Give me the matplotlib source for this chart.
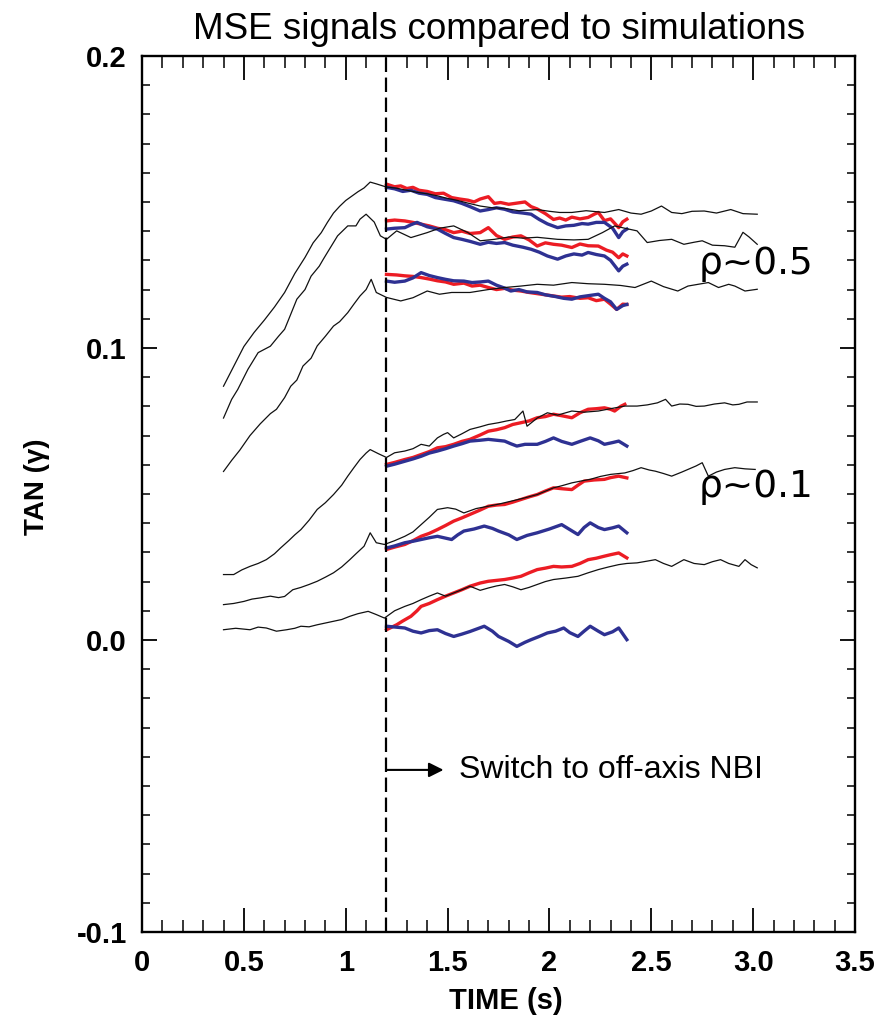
import matplotlib
matplotlib.use("Agg")
import matplotlib.pyplot as plt
from matplotlib.ticker import MultipleLocator, FixedLocator, FixedFormatter

# ── Data ────────────────────────────────────────────────────────────────────
# rho ~ 0.5 group: simulations (black, thin)
T_SIM_A1 = [0.40, 0.45, 0.50, 0.55, 0.60, 0.65, 0.70, 0.75, 0.80, 0.84, 0.88, 0.91, 0.94, 0.97,
            1.00, 1.03, 1.06, 1.09, 1.12, 1.15, 1.20, 1.25, 1.30, 1.35, 1.40, 1.45, 1.50, 1.55,
            1.60, 1.66, 1.72, 1.78, 1.85, 1.94, 2.00, 2.05, 2.11, 2.18, 2.27, 2.34, 2.40, 2.45,
            2.50, 2.55, 2.60, 2.65, 2.70, 2.76, 2.82, 2.89, 2.95, 3.02]
Y_SIM_A1 = [0.0869, 0.0937, 0.1005, 0.1053, 0.1095, 0.1140, 0.1190, 0.1255, 0.1310, 0.1360, 0.1395,
            0.1430, 0.1462, 0.1485, 0.1505, 0.1520, 0.1535, 0.1548, 0.1568, 0.1562, 0.1551, 0.1547,
            0.1540, 0.1533, 0.1528, 0.1521, 0.1512, 0.1505, 0.1496, 0.1486, 0.1480, 0.1478, 0.1470,
            0.1474, 0.1468, 0.1464, 0.1464, 0.1470, 0.1464, 0.1474, 0.1462, 0.1458, 0.1469, 0.1486,
            0.1464, 0.1460, 0.1468, 0.1469, 0.1462, 0.1474, 0.1460, 0.1458]

T_SIM_A2 = [0.40, 0.44, 0.47, 0.52, 0.57, 0.63, 0.67, 0.70, 0.72, 0.76, 0.80, 0.83, 0.87, 0.89,
            0.91, 0.96, 1.01, 1.05, 1.07, 1.10, 1.14, 1.17, 1.20, 1.25, 1.32, 1.40, 1.46, 1.53,
            1.60, 1.66, 1.73, 1.80, 1.87, 1.94, 2.04, 2.12, 2.19, 2.26, 2.32, 2.37, 2.43, 2.48,
            2.54, 2.60, 2.66, 2.71, 2.75, 2.80, 2.86, 2.91, 2.95, 2.98, 3.02]
Y_SIM_A2 = [0.0760, 0.0824, 0.0858, 0.0927, 0.0984, 0.1006, 0.1040, 0.1064, 0.1098, 0.1167, 0.1200,
            0.1246, 0.1280, 0.1304, 0.1327, 0.1384, 0.1418, 0.1418, 0.1441, 0.1458, 0.1431, 0.1384,
            0.1372, 0.1401, 0.1378, 0.1395, 0.1410, 0.1418, 0.1395, 0.1367, 0.1372, 0.1380, 0.1376,
            0.1379, 0.1372, 0.1370, 0.1372, 0.1395, 0.1418, 0.1410, 0.1401, 0.1361, 0.1368, 0.1372,
            0.1355, 0.1362, 0.1367, 0.1352, 0.1350, 0.1345, 0.1396, 0.1380, 0.1355]

T_SIM_A3 = [0.40, 0.44, 0.48, 0.53, 0.58, 0.63, 0.66, 0.70, 0.73, 0.76, 0.79, 0.83, 0.86, 0.90,
            0.94, 0.97, 1.01, 1.04, 1.07, 1.10, 1.125, 1.15, 1.20, 1.27, 1.33, 1.40, 1.46, 1.52,
            1.61, 1.70, 1.78, 1.86, 1.94, 2.02, 2.11, 2.19, 2.27, 2.35, 2.42, 2.50, 2.56, 2.63,
            2.68, 2.73, 2.78, 2.83, 2.88, 2.91, 2.96, 3.02]
Y_SIM_A3 = [0.0577, 0.0615, 0.0650, 0.0700, 0.0740, 0.0775, 0.0790, 0.0830, 0.0869, 0.0890, 0.0938,
            0.0965, 0.1007, 0.1040, 0.1075, 0.1090, 0.1121, 0.1150, 0.1178, 0.1200, 0.1235, 0.1190,
            0.1173, 0.1161, 0.1172, 0.1195, 0.1184, 0.1190, 0.1190, 0.1200, 0.1207, 0.1212, 0.1218,
            0.1215, 0.1224, 0.1220, 0.1218, 0.1214, 0.1207, 0.1229, 0.1210, 0.1195, 0.1212, 0.1218,
            0.1224, 0.1207, 0.1218, 0.1212, 0.1195, 0.1201]

# rho ~ 0.5 group: MSE measurements (red / blue)
T_RED_A1 = [1.20, 1.24, 1.27, 1.30, 1.33, 1.36, 1.40, 1.44, 1.48, 1.52, 1.56, 1.60, 1.63, 1.66,
            1.70, 1.73, 1.76, 1.80, 1.84, 1.88, 1.91, 1.94, 1.98, 2.02, 2.05, 2.08, 2.11, 2.15,
            2.19, 2.22, 2.24, 2.27, 2.30, 2.34, 2.36, 2.38]
Y_RED_A1 = [0.1561, 0.1552, 0.1555, 0.1546, 0.1550, 0.1540, 0.1536, 0.1528, 0.1530, 0.1515, 0.1510,
            0.1506, 0.1500, 0.1510, 0.1518, 0.1495, 0.1498, 0.1492, 0.1496, 0.1500, 0.1484, 0.1476,
            0.1460, 0.1440, 0.1445, 0.1438, 0.1448, 0.1442, 0.1447, 0.1458, 0.1464, 0.1436, 0.1442,
            0.1412, 0.1432, 0.1441]
T_BLUE_A1 = [1.20, 1.24, 1.28, 1.32, 1.36, 1.40, 1.44, 1.48, 1.53, 1.57, 1.61, 1.66, 1.70, 1.74,
             1.78, 1.82, 1.87, 1.91, 1.95, 1.99, 2.04, 2.08, 2.12, 2.16, 2.19, 2.23, 2.27, 2.31,
             2.34, 2.36, 2.38]
Y_BLUE_A1 = [0.1550, 0.1545, 0.1536, 0.1540, 0.1530, 0.1526, 0.1515, 0.1510, 0.1504, 0.1495, 0.1484,
             0.1469, 0.1474, 0.1480, 0.1475, 0.1466, 0.1462, 0.1458, 0.1440, 0.1425, 0.1412, 0.1418,
             0.1420, 0.1426, 0.1424, 0.1430, 0.1430, 0.1410, 0.1378, 0.1398, 0.1407]

T_RED_A2 = [1.20, 1.24, 1.29, 1.33, 1.37, 1.41, 1.45, 1.49, 1.53, 1.57, 1.61, 1.66, 1.70, 1.74,
            1.78, 1.82, 1.86, 1.90, 1.94, 1.98, 2.02, 2.06, 2.11, 2.15, 2.19, 2.24, 2.28, 2.31,
            2.34, 2.36, 2.38]
Y_RED_A2 = [0.1435, 0.1438, 0.1435, 0.1430, 0.1424, 0.1418, 0.1410, 0.1405, 0.1395, 0.1400, 0.1392,
            0.1395, 0.1412, 0.1385, 0.1372, 0.1380, 0.1384, 0.1370, 0.1349, 0.1360, 0.1355, 0.1352,
            0.1344, 0.1356, 0.1350, 0.1349, 0.1335, 0.1328, 0.1309, 0.1322, 0.1315]
T_BLUE_A2 = [1.20, 1.24, 1.29, 1.32, 1.35, 1.40, 1.45, 1.49, 1.53, 1.57, 1.61, 1.66, 1.70, 1.74,
             1.78, 1.82, 1.87, 1.91, 1.95, 1.99, 2.04, 2.08, 2.12, 2.16, 2.19, 2.23, 2.27, 2.30,
             2.34, 2.36, 2.38]
Y_BLUE_A2 = [0.1407, 0.1410, 0.1412, 0.1422, 0.1430, 0.1415, 0.1407, 0.1392, 0.1378, 0.1372, 0.1365,
             0.1355, 0.1362, 0.1358, 0.1361, 0.1352, 0.1345, 0.1338, 0.1328, 0.1315, 0.1304, 0.1315,
             0.1322, 0.1318, 0.1327, 0.1320, 0.1315, 0.1300, 0.1264, 0.1280, 0.1287]

T_RED_A3 = [1.20, 1.25, 1.29, 1.33, 1.37, 1.41, 1.45, 1.49, 1.53, 1.58, 1.62, 1.66, 1.70, 1.74,
            1.78, 1.82, 1.86, 1.90, 1.94, 1.98, 2.02, 2.06, 2.10, 2.15, 2.19, 2.23, 2.27, 2.30,
            2.33, 2.36, 2.38]
Y_RED_A3 = [0.1252, 0.1250, 0.1247, 0.1245, 0.1241, 0.1236, 0.1230, 0.1226, 0.1218, 0.1222, 0.1212,
            0.1215, 0.1207, 0.1200, 0.1204, 0.1198, 0.1195, 0.1190, 0.1186, 0.1182, 0.1178, 0.1174,
            0.1176, 0.1170, 0.1172, 0.1162, 0.1167, 0.1150, 0.1132, 0.1150, 0.1149]
T_BLUE_A3 = [1.20, 1.24, 1.29, 1.33, 1.37, 1.41, 1.45, 1.49, 1.53, 1.58, 1.62, 1.66, 1.70, 1.74,
             1.78, 1.81, 1.85, 1.89, 1.94, 1.98, 2.03, 2.07, 2.11, 2.15, 2.20, 2.24, 2.27, 2.30,
             2.33, 2.36, 2.38]
Y_BLUE_A3 = [0.1229, 0.1225, 0.1229, 0.1240, 0.1258, 0.1248, 0.1241, 0.1235, 0.1230, 0.1229, 0.1224,
             0.1226, 0.1229, 0.1215, 0.1205, 0.1195, 0.1200, 0.1192, 0.1190, 0.1182, 0.1176, 0.1170,
             0.1167, 0.1175, 0.1180, 0.1184, 0.1170, 0.1158, 0.1132, 0.1145, 0.1149]

# rho ~ 0.1 group: simulations (black, thin)
T_SIM_B1 = [0.40, 0.45, 0.49, 0.53, 0.57, 0.61, 0.65, 0.68, 0.72, 0.75, 0.78, 0.82, 0.86, 0.90,
            0.94, 0.98, 1.01, 1.04, 1.07, 1.10, 1.12, 1.16, 1.20, 1.24, 1.29, 1.33, 1.37, 1.41,
            1.45, 1.48, 1.50, 1.53, 1.57, 1.61, 1.66, 1.70, 1.75, 1.79, 1.83, 1.87, 1.89, 1.94,
            1.99, 2.04, 2.11, 2.17, 2.24, 2.30, 2.37, 2.43, 2.48, 2.53, 2.57, 2.60, 2.64, 2.68,
            2.72, 2.76, 2.81, 2.86, 2.90, 2.93, 2.97, 3.02]
Y_SIM_B1 = [0.0224, 0.0224, 0.0240, 0.0252, 0.0262, 0.0275, 0.0295, 0.0315, 0.0340, 0.0360, 0.0378,
            0.0410, 0.0447, 0.0470, 0.0498, 0.0530, 0.0561, 0.0590, 0.0618, 0.0640, 0.0652, 0.0638,
            0.0625, 0.0641, 0.0647, 0.0655, 0.0670, 0.0664, 0.0692, 0.0704, 0.0710, 0.0692, 0.0706,
            0.0721, 0.0730, 0.0738, 0.0744, 0.0750, 0.0755, 0.0784, 0.0732, 0.0760, 0.0778, 0.0770,
            0.0784, 0.0780, 0.0784, 0.0792, 0.0801, 0.0801, 0.0805, 0.0812, 0.0824, 0.0801, 0.0808,
            0.0807, 0.0800, 0.0801, 0.0808, 0.0812, 0.0805, 0.0807, 0.0815, 0.0815]

T_SIM_B2 = [0.40, 0.45, 0.50, 0.54, 0.58, 0.63, 0.67, 0.70, 0.74, 0.78, 0.82, 0.86, 0.90, 0.94,
            0.98, 1.02, 1.05, 1.09, 1.12, 1.15, 1.19, 1.24, 1.29, 1.33, 1.37, 1.41, 1.45, 1.50,
            1.54, 1.58, 1.64, 1.70, 1.75, 1.81, 1.87, 1.94, 2.02, 2.06, 2.11, 2.16, 2.20, 2.25,
            2.30, 2.37, 2.41, 2.45, 2.49, 2.52, 2.56, 2.60, 2.65, 2.68, 2.72, 2.75, 2.78, 2.82,
            2.86, 2.91, 2.96, 3.01]
Y_SIM_B2 = [0.0121, 0.0125, 0.0132, 0.0140, 0.0144, 0.0150, 0.0145, 0.0149, 0.0172, 0.0180, 0.0190,
            0.0201, 0.0215, 0.0230, 0.0250, 0.0275, 0.0295, 0.0321, 0.0367, 0.0333, 0.0327, 0.0340,
            0.0355, 0.0370, 0.0395, 0.0420, 0.0447, 0.0453, 0.0448, 0.0435, 0.0450, 0.0458, 0.0465,
            0.0475, 0.0485, 0.0498, 0.0521, 0.0528, 0.0538, 0.0545, 0.0550, 0.0560, 0.0567, 0.0572,
            0.0580, 0.0590, 0.0582, 0.0578, 0.0570, 0.0561, 0.0575, 0.0584, 0.0596, 0.0607, 0.0561,
            0.0575, 0.0584, 0.0590, 0.0586, 0.0584]

T_SIM_B3 = [0.40, 0.46, 0.53, 0.57, 0.61, 0.66, 0.71, 0.75, 0.78, 0.82, 0.86, 0.90, 0.94, 0.98,
            1.02, 1.06, 1.11, 1.15, 1.19, 1.24, 1.29, 1.33, 1.37, 1.41, 1.45, 1.49, 1.53, 1.57,
            1.61, 1.66, 1.70, 1.74, 1.78, 1.82, 1.86, 1.90, 1.94, 1.98, 2.02, 2.08, 2.14, 2.19,
            2.24, 2.29, 2.34, 2.38, 2.43, 2.48, 2.52, 2.56, 2.60, 2.66, 2.71, 2.76, 2.80, 2.84,
            2.88, 2.93, 2.96, 2.99, 3.02]
Y_SIM_B3 = [0.0035, 0.0040, 0.0035, 0.0044, 0.0041, 0.0030, 0.0035, 0.0040, 0.0047, 0.0045, 0.0052,
            0.0058, 0.0064, 0.0070, 0.0081, 0.0090, 0.0098, 0.0087, 0.0075, 0.0100, 0.0115, 0.0125,
            0.0138, 0.0150, 0.0161, 0.0150, 0.0161, 0.0172, 0.0184, 0.0170, 0.0178, 0.0185, 0.0190,
            0.0182, 0.0172, 0.0180, 0.0190, 0.0200, 0.0207, 0.0212, 0.0218, 0.0230, 0.0241, 0.0250,
            0.0258, 0.0262, 0.0264, 0.0270, 0.0275, 0.0262, 0.0252, 0.0275, 0.0262, 0.0258, 0.0268,
            0.0275, 0.0262, 0.0252, 0.0275, 0.0258, 0.0247]

# rho ~ 0.1 group: MSE measurements (red / blue)
T_RED_B1 = [1.20, 1.24, 1.29, 1.33, 1.37, 1.41, 1.45, 1.49, 1.53, 1.57, 1.61, 1.66, 1.70, 1.74,
            1.78, 1.82, 1.86, 1.90, 1.94, 1.98, 2.02, 2.06, 2.11, 2.15, 2.19, 2.23, 2.27, 2.30,
            2.32, 2.35, 2.37]
Y_RED_B1 = [0.0601, 0.0608, 0.0618, 0.0625, 0.0635, 0.0645, 0.0658, 0.0662, 0.0670, 0.0680, 0.0687,
            0.0702, 0.0715, 0.0720, 0.0727, 0.0738, 0.0744, 0.0750, 0.0761, 0.0765, 0.0773, 0.0768,
            0.0761, 0.0778, 0.0790, 0.0792, 0.0795, 0.0790, 0.0784, 0.0800, 0.0807]
T_BLUE_B1 = [1.20, 1.24, 1.29, 1.33, 1.37, 1.41, 1.45, 1.49, 1.53, 1.57, 1.61, 1.66, 1.70, 1.74,
             1.78, 1.81, 1.84, 1.88, 1.94, 1.98, 2.02, 2.06, 2.11, 2.15, 2.20, 2.24, 2.27, 2.31,
             2.34, 2.38]
Y_BLUE_B1 = [0.0595, 0.0602, 0.0612, 0.0620, 0.0629, 0.0640, 0.0647, 0.0655, 0.0664, 0.0672, 0.0681,
             0.0684, 0.0687, 0.0684, 0.0681, 0.0672, 0.0664, 0.0670, 0.0670, 0.0680, 0.0692, 0.0680,
             0.0670, 0.0680, 0.0692, 0.0682, 0.0670, 0.0676, 0.0681, 0.0664]

T_RED_B2 = [1.20, 1.24, 1.29, 1.33, 1.37, 1.41, 1.45, 1.49, 1.53, 1.57, 1.61, 1.66, 1.70, 1.74,
            1.78, 1.82, 1.86, 1.90, 1.94, 1.98, 2.02, 2.06, 2.11, 2.14, 2.17, 2.22, 2.27, 2.30,
            2.34, 2.38]
Y_RED_B2 = [0.0310, 0.0318, 0.0327, 0.0340, 0.0355, 0.0365, 0.0378, 0.0392, 0.0407, 0.0418, 0.0430,
            0.0445, 0.0458, 0.0462, 0.0464, 0.0472, 0.0481, 0.0490, 0.0498, 0.0510, 0.0521, 0.0518,
            0.0515, 0.0530, 0.0544, 0.0548, 0.0550, 0.0556, 0.0561, 0.0555]
T_BLUE_B2 = [1.20, 1.24, 1.29, 1.33, 1.37, 1.41, 1.45, 1.52, 1.55, 1.58, 1.63, 1.68, 1.72, 1.75,
             1.80, 1.84, 1.89, 1.94, 2.00, 2.06, 2.10, 2.14, 2.17, 2.20, 2.24, 2.27, 2.31, 2.34,
             2.38]
Y_BLUE_B2 = [0.0315, 0.0322, 0.0333, 0.0338, 0.0344, 0.0350, 0.0355, 0.0344, 0.0360, 0.0373, 0.0380,
             0.0390, 0.0382, 0.0373, 0.0360, 0.0344, 0.0358, 0.0367, 0.0380, 0.0395, 0.0378, 0.0361,
             0.0385, 0.0401, 0.0385, 0.0378, 0.0384, 0.0390, 0.0367]

T_RED_B3 = [1.20, 1.25, 1.28, 1.32, 1.35, 1.37, 1.41, 1.45, 1.49, 1.53, 1.57, 1.61, 1.66, 1.70,
            1.74, 1.78, 1.82, 1.86, 1.90, 1.94, 1.98, 2.02, 2.06, 2.11, 2.15, 2.19, 2.23, 2.27,
            2.30, 2.34, 2.38]
Y_RED_B3 = [0.0035, 0.0052, 0.0065, 0.0081, 0.0100, 0.0115, 0.0125, 0.0138, 0.0150, 0.0161, 0.0172,
            0.0184, 0.0195, 0.0201, 0.0204, 0.0207, 0.0212, 0.0218, 0.0230, 0.0241, 0.0246, 0.0252,
            0.0250, 0.0252, 0.0262, 0.0275, 0.0280, 0.0287, 0.0292, 0.0298, 0.0281]
T_BLUE_B3 = [1.20, 1.29, 1.33, 1.37, 1.41, 1.45, 1.49, 1.53, 1.57, 1.61, 1.68, 1.72, 1.75, 1.80,
             1.84, 1.88, 1.91, 1.95, 1.99, 2.03, 2.07, 2.10, 2.14, 2.17, 2.20, 2.24, 2.27, 2.31,
             2.34, 2.38]
Y_BLUE_B3 = [0.0047, 0.0041, 0.0030, 0.0024, 0.0032, 0.0035, 0.0022, 0.0012, 0.0020, 0.0029, 0.0047,
             0.0030, 0.0012, -0.0005, -0.0022, -0.0008, 0.0001, 0.0012, 0.0024, 0.0030, 0.0041,
             0.0025, 0.0012, 0.0030, 0.0047, 0.0030, 0.0018, 0.0028, 0.0041, 0.0001]

X_TICKS = [0, 0.5, 1, 1.5, 2, 2.5, 3.0, 3.5]
X_TICK_LABELS = ["0", "0.5", "1", "1.5", "2", "2.5", "3.0", "3.5"]
Y_TICKS = [-0.1, 0.0, 0.1, 0.2]
Y_TICK_LABELS = ["-0.1", "0.0", "0.1", "0.2"]

SWITCH_TIME = 1.2
ARROW_END = 1.48
ARROW_Y = -0.0445

# ── Style ──────────────────────────────────────────────────────────────────
RED = "#ec1c24"
BLUE = "#2e3192"
BLACK = "#111111"
plt.rcParams["font.family"] = ["Liberation Sans", "DejaVu Sans"]

fig = plt.figure(figsize=(8.91, 10.21), dpi=100)
ax = fig.add_axes([0.1594, 0.0872, 0.8002, 0.8580])

sims = [(T_SIM_A1, Y_SIM_A1), (T_SIM_A2, Y_SIM_A2), (T_SIM_A3, Y_SIM_A3),
        (T_SIM_B1, Y_SIM_B1), (T_SIM_B2, Y_SIM_B2), (T_SIM_B3, Y_SIM_B3)]
reds = [(T_RED_A1, Y_RED_A1), (T_RED_A2, Y_RED_A2), (T_RED_A3, Y_RED_A3),
        (T_RED_B1, Y_RED_B1), (T_RED_B2, Y_RED_B2), (T_RED_B3, Y_RED_B3)]
blues = [(T_BLUE_A1, Y_BLUE_A1), (T_BLUE_A2, Y_BLUE_A2), (T_BLUE_A3, Y_BLUE_A3),
         (T_BLUE_B1, Y_BLUE_B1), (T_BLUE_B2, Y_BLUE_B2), (T_BLUE_B3, Y_BLUE_B3)]

for t, y in reds:
    ax.plot(t, y, color=RED, lw=2.4, solid_joinstyle="round", zorder=3)
for t, y in blues:
    ax.plot(t, y, color=BLUE, lw=2.4, solid_joinstyle="round", zorder=4)
for t, y in sims:
    ax.plot(t, y, color=BLACK, lw=0.9, zorder=5)

# NBI switch marker
ax.axvline(SWITCH_TIME, color="black", lw=1.6, linestyle=(0, (6.5, 2.5)), zorder=6)
ax.annotate("", xy=(ARROW_END, ARROW_Y), xytext=(SWITCH_TIME, ARROW_Y),
            arrowprops=dict(arrowstyle="-|>", color="black", lw=1.5,
                            mutation_scale=22, shrinkA=0, shrinkB=0))
ax.text(1.555, ARROW_Y, "Switch to off-axis NBI", fontsize=23, va="center", ha="left")

ax.text(2.73, 0.1252, "ρ~0.5", fontsize=27, family="DejaVu Sans", va="baseline")
ax.text(2.73, 0.0488, "ρ~0.1", fontsize=27, family="DejaVu Sans", va="baseline")

# Axes, ticks
ax.set_xlim(0, 3.5)
ax.set_ylim(-0.1, 0.2)
ax.xaxis.set_major_locator(FixedLocator(X_TICKS))
ax.xaxis.set_major_formatter(FixedFormatter(X_TICK_LABELS))
ax.yaxis.set_major_locator(FixedLocator(Y_TICKS))
ax.yaxis.set_major_formatter(FixedFormatter(Y_TICK_LABELS))
ax.xaxis.set_minor_locator(MultipleLocator(0.1))
ax.yaxis.set_minor_locator(MultipleLocator(0.01))

ax.tick_params(axis="x", which="major", direction="in", length=17, width=1.3,
               top=True, bottom=True, pad=12, labelsize=21)
ax.tick_params(axis="x", which="minor", direction="in", length=8.5, width=1.1,
               top=True, bottom=True)
ax.tick_params(axis="y", which="major", direction="in", length=11, width=1.3,
               left=True, right=True, pad=11, labelsize=21)
ax.tick_params(axis="y", which="minor", direction="in", length=5.5, width=1.1,
               left=True, right=True)
for lab in ax.get_xticklabels() + ax.get_yticklabels():
    lab.set_fontweight("bold")
for sp in ax.spines.values():
    sp.set_linewidth(1.7)

fig.text(0.5598, 0.9618, "MSE signals compared to simulations", fontsize=26.5,
         ha="center", va="baseline")
fig.text(0.568, 0.0196, "TIME (s)", fontsize=21, fontweight="bold", ha="center", va="center")
fig.text(0.042, 0.523, "TAN (γ)", fontsize=20, fontweight="bold", rotation=90,
         ha="center", va="center")

fig.savefig("out.png", dpi=100)
